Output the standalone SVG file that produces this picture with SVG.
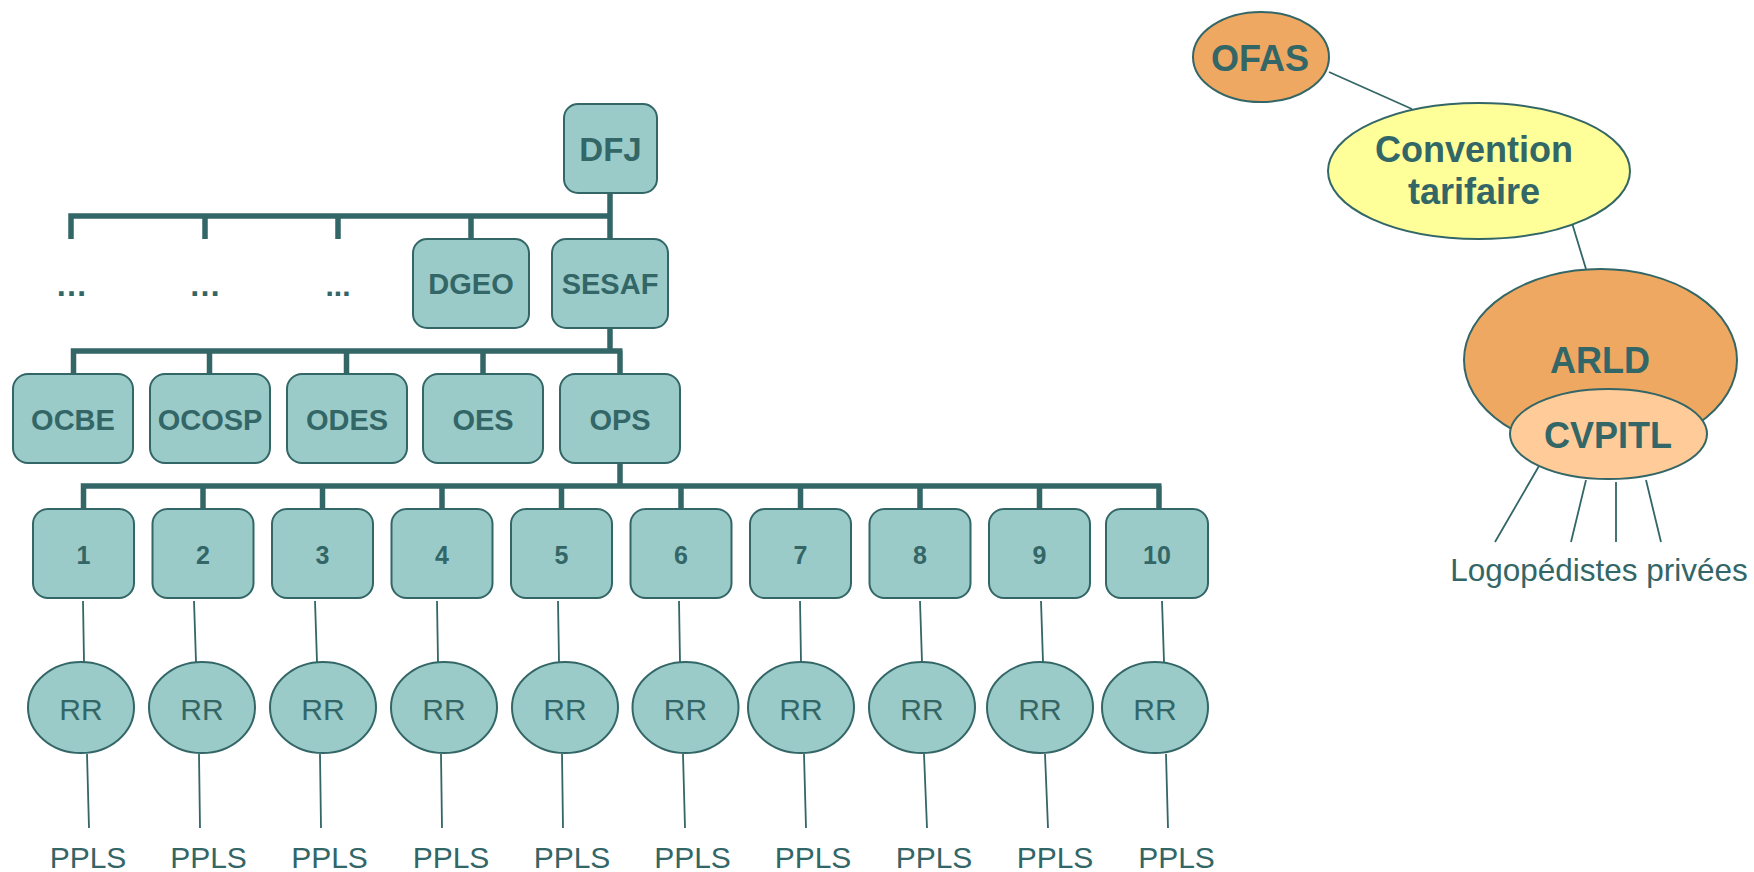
<svg xmlns="http://www.w3.org/2000/svg" width="1754" height="872" viewBox="0 0 1754 872">
<style>
.box{fill:#9BCBC9;stroke:#336666;stroke-width:2}
.bus{fill:none;stroke:#336666;stroke-width:5.5;stroke-linejoin:miter}
.thin{stroke:#336666;stroke-width:1.8;fill:none}
.b{font-family:"Liberation Sans",Arial,sans-serif;font-weight:bold;fill:#336666;text-anchor:middle}
.r{font-family:"Liberation Sans",Arial,sans-serif;fill:#336666;text-anchor:middle}
.orange{fill:#EEA862;stroke:#336666;stroke-width:2}
.light{fill:#FFCC99;stroke:#336666;stroke-width:2}
.yellow{fill:#FFFF99;stroke:#336666;stroke-width:2}
</style>
<rect width="1754" height="872" fill="#FFFFFF"/>
<g id="connectors">
<path class="bus" d="M610 193 V216 M71 239 V216 H612.5 M205 216 V239 M338 216 V239 M471 216 V239 M610 216 V239"/>
<path class="bus" d="M610 328 V351 M73.5 374 V351 H622.5 M209.5 351 V374 M346.5 351 V374 M483 351 V374 M620 351 V374"/>
<path class="bus" d="M620 463 V486 M83.5 509 V486 H1161.5 M203 486 V509 M322.5 486 V509 M442 486 V509 M561.5 486 V509 M681 486 V509 M800.5 486 V509 M920 486 V509 M1039.5 486 V509 M1159 486 V509"/>
<path class="thin" d="M83 601 L84 662 M194 601 L196 662 M315 601 L317 662 M437 601 L438 662 M558 601 L559 662 M679 601 L680 662 M800 601 L801 662 M920 601 L922 662 M1041 601 L1043 662 M1162 601 L1164 662"/>
<path class="thin" d="M87 754 L89 828 M199 754 L200 828 M320 754 L321 828 M441 754 L442 828 M562 754 L563 828 M683 754 L685 828 M804 754 L806 828 M924 754 L927 828 M1045 754 L1048 828 M1166 754 L1168 828"/>
<path class="thin" d="M1329 72 L1412 109 M1572 223 L1586 269 M1539 466 L1495 542 M1586 480 L1571 542 M1616 482 L1616 542 M1646 480 L1661 542"/>
</g>
<g id="DFJ"><rect class="box" x="564" y="104" width="93" height="89" rx="14"/><text class="b" x="610.5" y="161" font-size="33">DFJ</text></g>
<g id="dots1"><text class="b" x="71.5" y="296" font-size="32">…</text></g>
<g id="dots2"><text class="b" x="205" y="296" font-size="32">…</text></g>
<g id="dots3"><text class="b" x="338" y="296" font-size="30">...</text></g>
<g id="DGEO"><rect class="box" x="413" y="239" width="116" height="89" rx="14"/><text class="b" x="471" y="294" font-size="29">DGEO</text></g>
<g id="SESAF"><rect class="box" x="552" y="239" width="116" height="89" rx="14"/><text class="b" x="610" y="294" font-size="29">SESAF</text></g>
<g id="OCBE"><rect class="box" x="13" y="374" width="120" height="89" rx="15"/><text class="b" x="73" y="430" font-size="29">OCBE</text></g>
<g id="OCOSP"><rect class="box" x="150" y="374" width="120" height="89" rx="15"/><text class="b" x="210" y="430" font-size="29">OCOSP</text></g>
<g id="ODES"><rect class="box" x="287" y="374" width="120" height="89" rx="15"/><text class="b" x="347" y="430" font-size="29">ODES</text></g>
<g id="OES"><rect class="box" x="423" y="374" width="120" height="89" rx="15"/><text class="b" x="483" y="430" font-size="29">OES</text></g>
<g id="OPS"><rect class="box" x="560" y="374" width="120" height="89" rx="15"/><text class="b" x="620" y="430" font-size="29">OPS</text></g>
<g id="n1"><rect class="box" x="33" y="509" width="101" height="89" rx="15"/><text class="b" x="83.5" y="564" font-size="25">1</text></g>
<g id="n2"><rect class="box" x="152.5" y="509" width="101" height="89" rx="15"/><text class="b" x="203" y="564" font-size="25">2</text></g>
<g id="n3"><rect class="box" x="272" y="509" width="101" height="89" rx="15"/><text class="b" x="322.5" y="564" font-size="25">3</text></g>
<g id="n4"><rect class="box" x="391.5" y="509" width="101" height="89" rx="15"/><text class="b" x="442" y="564" font-size="25">4</text></g>
<g id="n5"><rect class="box" x="511" y="509" width="101" height="89" rx="15"/><text class="b" x="561.5" y="564" font-size="25">5</text></g>
<g id="n6"><rect class="box" x="630.5" y="509" width="101" height="89" rx="15"/><text class="b" x="681" y="564" font-size="25">6</text></g>
<g id="n7"><rect class="box" x="750" y="509" width="101" height="89" rx="15"/><text class="b" x="800.5" y="564" font-size="25">7</text></g>
<g id="n8"><rect class="box" x="869.5" y="509" width="101" height="89" rx="15"/><text class="b" x="920" y="564" font-size="25">8</text></g>
<g id="n9"><rect class="box" x="989" y="509" width="101" height="89" rx="15"/><text class="b" x="1039.5" y="564" font-size="25">9</text></g>
<g id="n10"><rect class="box" x="1106" y="509" width="102" height="89" rx="15"/><text class="b" x="1157" y="564" font-size="25">10</text></g>
<g id="rr1"><ellipse class="box" cx="81" cy="707.5" rx="53" ry="45.5"/><text class="r" x="81" y="720" font-size="30">RR</text></g>
<g id="rr2"><ellipse class="box" cx="202" cy="707.5" rx="53" ry="45.5"/><text class="r" x="202" y="720" font-size="30">RR</text></g>
<g id="rr3"><ellipse class="box" cx="323" cy="707.5" rx="53" ry="45.5"/><text class="r" x="323" y="720" font-size="30">RR</text></g>
<g id="rr4"><ellipse class="box" cx="444" cy="707.5" rx="53" ry="45.5"/><text class="r" x="444" y="720" font-size="30">RR</text></g>
<g id="rr5"><ellipse class="box" cx="565" cy="707.5" rx="53" ry="45.5"/><text class="r" x="565" y="720" font-size="30">RR</text></g>
<g id="rr6"><ellipse class="box" cx="685.5" cy="707.5" rx="53" ry="45.5"/><text class="r" x="685.5" y="720" font-size="30">RR</text></g>
<g id="rr7"><ellipse class="box" cx="801" cy="707.5" rx="53" ry="45.5"/><text class="r" x="801" y="720" font-size="30">RR</text></g>
<g id="rr8"><ellipse class="box" cx="922" cy="707.5" rx="53" ry="45.5"/><text class="r" x="922" y="720" font-size="30">RR</text></g>
<g id="rr9"><ellipse class="box" cx="1040" cy="707.5" rx="53" ry="45.5"/><text class="r" x="1040" y="720" font-size="30">RR</text></g>
<g id="rr10"><ellipse class="box" cx="1155" cy="707.5" rx="53" ry="45.5"/><text class="r" x="1155" y="720" font-size="30">RR</text></g>
<g id="ppls">
<text class="r" x="88" y="868" font-size="30">PPLS</text>
<text class="r" x="208.5" y="868" font-size="30">PPLS</text>
<text class="r" x="329.5" y="868" font-size="30">PPLS</text>
<text class="r" x="451" y="868" font-size="30">PPLS</text>
<text class="r" x="572" y="868" font-size="30">PPLS</text>
<text class="r" x="692.5" y="868" font-size="30">PPLS</text>
<text class="r" x="813" y="868" font-size="30">PPLS</text>
<text class="r" x="934" y="868" font-size="30">PPLS</text>
<text class="r" x="1055" y="868" font-size="30">PPLS</text>
<text class="r" x="1176.5" y="868" font-size="30">PPLS</text>
</g>
<g id="OFAS"><ellipse class="orange" cx="1261" cy="57" rx="68" ry="45"/><text class="b" x="1260" y="71" font-size="36">OFAS</text></g>
<g id="convention"><ellipse class="yellow" cx="1479" cy="171" rx="151" ry="68"/><text class="b" x="1474" y="162" font-size="36">Convention</text><text class="b" x="1474" y="204" font-size="36">tarifaire</text></g>
<g id="ARLD"><ellipse class="orange" cx="1600.5" cy="360" rx="136.5" ry="91"/><text class="b" x="1600" y="373" font-size="36">ARLD</text></g>
<g id="CVPITL"><ellipse class="light" cx="1608.5" cy="434" rx="98.5" ry="45"/><text class="b" x="1608" y="448" font-size="36">CVPITL</text></g>
<g id="logopedistes"><text class="r" x="1599" y="581" font-size="31.5">Logopédistes privées</text></g>
</svg>
